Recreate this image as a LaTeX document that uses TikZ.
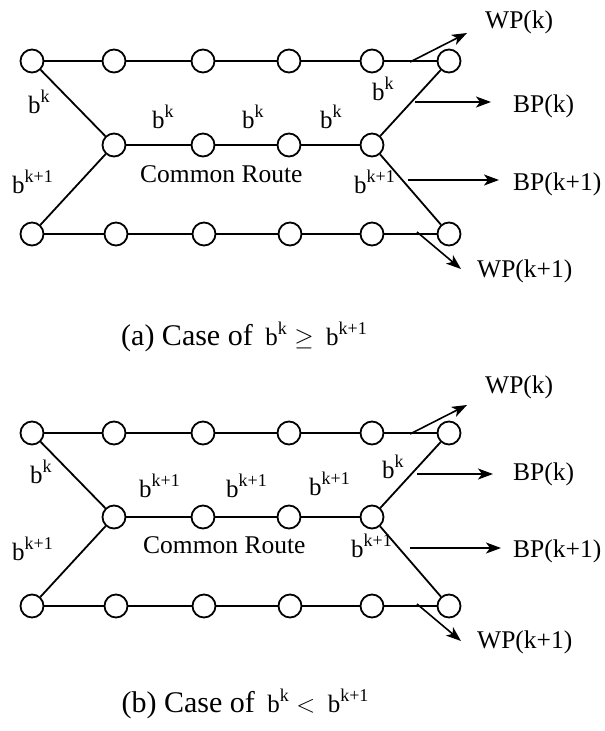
\documentclass[tikz,border=0pt]{standalone}
\usepackage{fontspec}
\setmainfont{Liberation Serif}
\usetikzlibrary{arrows.meta,calc}

% bandwidth symbol b with a raised index
\newcommand\bsp[1]{{\fontsize{25}{28}\selectfont b\raisebox{0.42em}{\fontsize{18}{20}\selectfont #1}}}

\begin{document}
\begin{tikzpicture}[x=1pt,y=-1pt,
  station/.style={circle,draw,line width=1.8pt,minimum size=23pt,inner sep=0pt,fill=white},
  link/.style={line width=1.8pt},
  trunk/.style={line width=2.8pt},
  flow/.style={line width=1.6pt,-{Stealth[length=15pt,width=11pt,inset=4pt]}},
  lbl/.style={font=\fontsize{25.5}{28}\selectfont,inner sep=0pt,anchor=base west},
  caption/.style={font=\fontsize{30}{34}\selectfont,inner sep=0pt,anchor=base}]
\useasboundingbox (0,0) rectangle (605,731);

% two networks with the same topology, one above the other
\foreach \p/\dy in {a/0,b/372} {
  \foreach \x [count=\i] in {32,114,203,289,372,449}
    \node[station] (\p-t\i) at (\x,{61+\dy}) {};
  \foreach \x [count=\i] in {114,203,289,372}
    \node[station] (\p-m\i) at (\x,{145+\dy}) {};
  \foreach \x [count=\i] in {32,116,204,290,372,449}
    \node[station] (\p-b\i) at (\x,{234+\dy}) {};
  % working paths (top and bottom)
  \draw[link] (\p-t1) -- (\p-t2) -- (\p-t3) -- (\p-t4) -- (\p-t5) -- (\p-t6);
  \draw[link] (\p-b1) -- (\p-b2) -- (\p-b3) -- (\p-b4) -- (\p-b5) -- (\p-b6);
  % common route shared by both backup paths
  \draw[trunk] (\p-m1) -- (\p-m2) -- (\p-m3) -- (\p-m4);
  \draw[link] (\p-t1) -- (\p-m1);
  \draw[link] (\p-b1) -- (\p-m1);
  \draw[link] (\p-m4) -- (\p-t6);
  \draw[link] (\p-m4) -- (\p-b6);
  % arrow end points
  \coordinate (\p-wk0) at (410,{62+\dy});
  \coordinate (\p-wk1) at (467,{33+\dy});
  \coordinate (\p-wl0) at (417,{232+\dy});
  \coordinate (\p-wl1) at (461,{269+\dy});
}

% ---- panel (a)
\coordinate (a-bk0) at (415,102);
\coordinate (a-bk1) at (491,102);
\coordinate (a-bl0) at (408,180);
\coordinate (a-bl1) at (499,180);
\draw[flow] (a-wk0) -- (a-wk1);
\draw[flow] (a-bk0) -- (a-bk1);
\draw[flow] (a-bl0) -- (a-bl1);
\draw[flow] (a-wl0) -- (a-wl1);
\node[lbl] (a-WPk) at (485,28) {WP(k)};
\node[lbl] (a-BPk) at (513,112) {BP(k)};
\node[lbl] (a-BPl) at (513,190) {BP(k+1)};
\node[lbl] (a-WPl) at (477,277) {WP(k+1)};
\node[lbl] (a-l1) at (28,113) {\bsp{k}};
\node[lbl] (a-l2) at (12,193) {\bsp{k+1}};
\node[lbl] (a-l3) at (152,128) {\bsp{k}};
\node[lbl] (a-l4) at (242,128) {\bsp{k}};
\node[lbl] (a-l5) at (320,128) {\bsp{k}};
\node[lbl] (a-l6) at (372,100) {\bsp{k}};
\node[lbl] (a-l7) at (354,193) {\bsp{k+1}};
\node[lbl] (a-cr) at (140,182) {Common Route};
\node[caption] (a-cap) at (244,345) {(a) Case of \,\bsp{k} $\geq$ \,\bsp{k+1}};

% ---- panel (b)
\coordinate (b-bk0) at (417,474);
\coordinate (b-bk1) at (493,474);
\coordinate (b-bl0) at (410,548);
\coordinate (b-bl1) at (501,548);
\draw[flow] (b-wk0) -- (b-wk1);
\draw[flow] (b-bk0) -- (b-bk1);
\draw[flow] (b-bl0) -- (b-bl1);
\draw[flow] (b-wl0) -- (b-wl1);
\node[lbl] (b-WPk) at (485,393) {WP(k)};
\node[lbl] (b-BPk) at (513,480) {BP(k)};
\node[lbl] (b-BPl) at (513,557) {BP(k+1)};
\node[lbl] (b-WPl) at (477,648) {WP(k+1)};
\node[lbl] (b-l1) at (30,483) {\bsp{k}};
\node[lbl] (b-l2) at (12,560) {\bsp{k+1}};
\node[lbl] (b-l3) at (139,497) {\bsp{k+1}};
\node[lbl] (b-l4) at (226,497) {\bsp{k+1}};
\node[lbl] (b-l5) at (309,495) {\bsp{k+1}};
\node[lbl] (b-l6) at (382,478) {\bsp{k}};
\node[lbl] (b-l7) at (351,557) {\bsp{k+1}};
\node[lbl] (b-cr) at (143,553) {Common Route};
\node[caption] (b-cap) at (245,712) {(b) Case of \,\bsp{k} $<$ \,\bsp{k+1}};
\end{tikzpicture}
\end{document}
